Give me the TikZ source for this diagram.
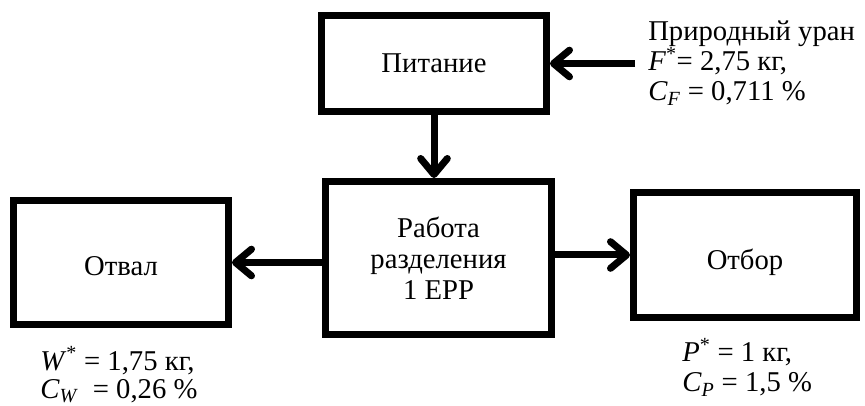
\documentclass[tikz,border=0pt]{standalone}
\usepackage{fontspec}
\setmainfont{Liberation Serif}
\usetikzlibrary{arrows.meta}
\begin{document}
\begin{tikzpicture}[x=0.75pt,y=-0.75pt,
	block/.style={draw,line width=5.25pt,rectangle,align=center,font=\fontsize{21.5}{23.25}\selectfont},
	flow/.style={line width=5.25pt,-{Straight Barb[length=12pt,width=20pt,round]}},
	note/.style={anchor=base west,align=left,inner sep=0pt,font=\fontsize{21.5}{22.5}\selectfont}]
	\useasboundingbox (0,0) rectangle (865,406);

	% blocks
	\node[block,minimum width=168.75pt,minimum height=72pt] (pit) at (434,63.5) {Питание};
	\node[block,minimum width=169.5pt,minimum height=114.75pt] (rab) at (438.5,258) {Работа\\разделения\\1 EPP};
	\node[block,minimum width=161.25pt,minimum height=93pt,text height=20pt] (otv) at (121,262.5) {Отвал};
	\node[block,minimum width=167.25pt,minimum height=93.75pt,text height=26pt] (otb) at (745,255) {Отбор};

	% flows
	\coordinate (src) at (635,63.5);
	\draw[flow] (src) -- (pit.east);
	\draw[flow] (pit.south) -- (pit.south |- rab.north);
	\draw[flow] (rab.west |- otv) -- (otv.east);
	\draw[flow] (rab.east |- otb) -- (otb.west);

	% streams (anchored at the last baseline)
	\node[note] (nat) at (648,101) {Природный уран\\\textit{F}\textsuperscript{*}= 2,75 кг,\\\textit{C}\textsubscript{\textit{F}} = 0,711~\%};
	\node[note,font=\fontsize{21.5}{21}\selectfont] (waste) at (40,398) {\textit{W}\textsuperscript{*} = 1,75 кг,\\\textit{C}\textsubscript{\textit{W}}~ = 0,26~\%};
	\node[note] (prod) at (682,392) {\textit{P}\textsuperscript{*} = 1 кг,\\\textit{C}\textsubscript{\textit{P}} = 1,5~\%};
\end{tikzpicture}
\end{document}
